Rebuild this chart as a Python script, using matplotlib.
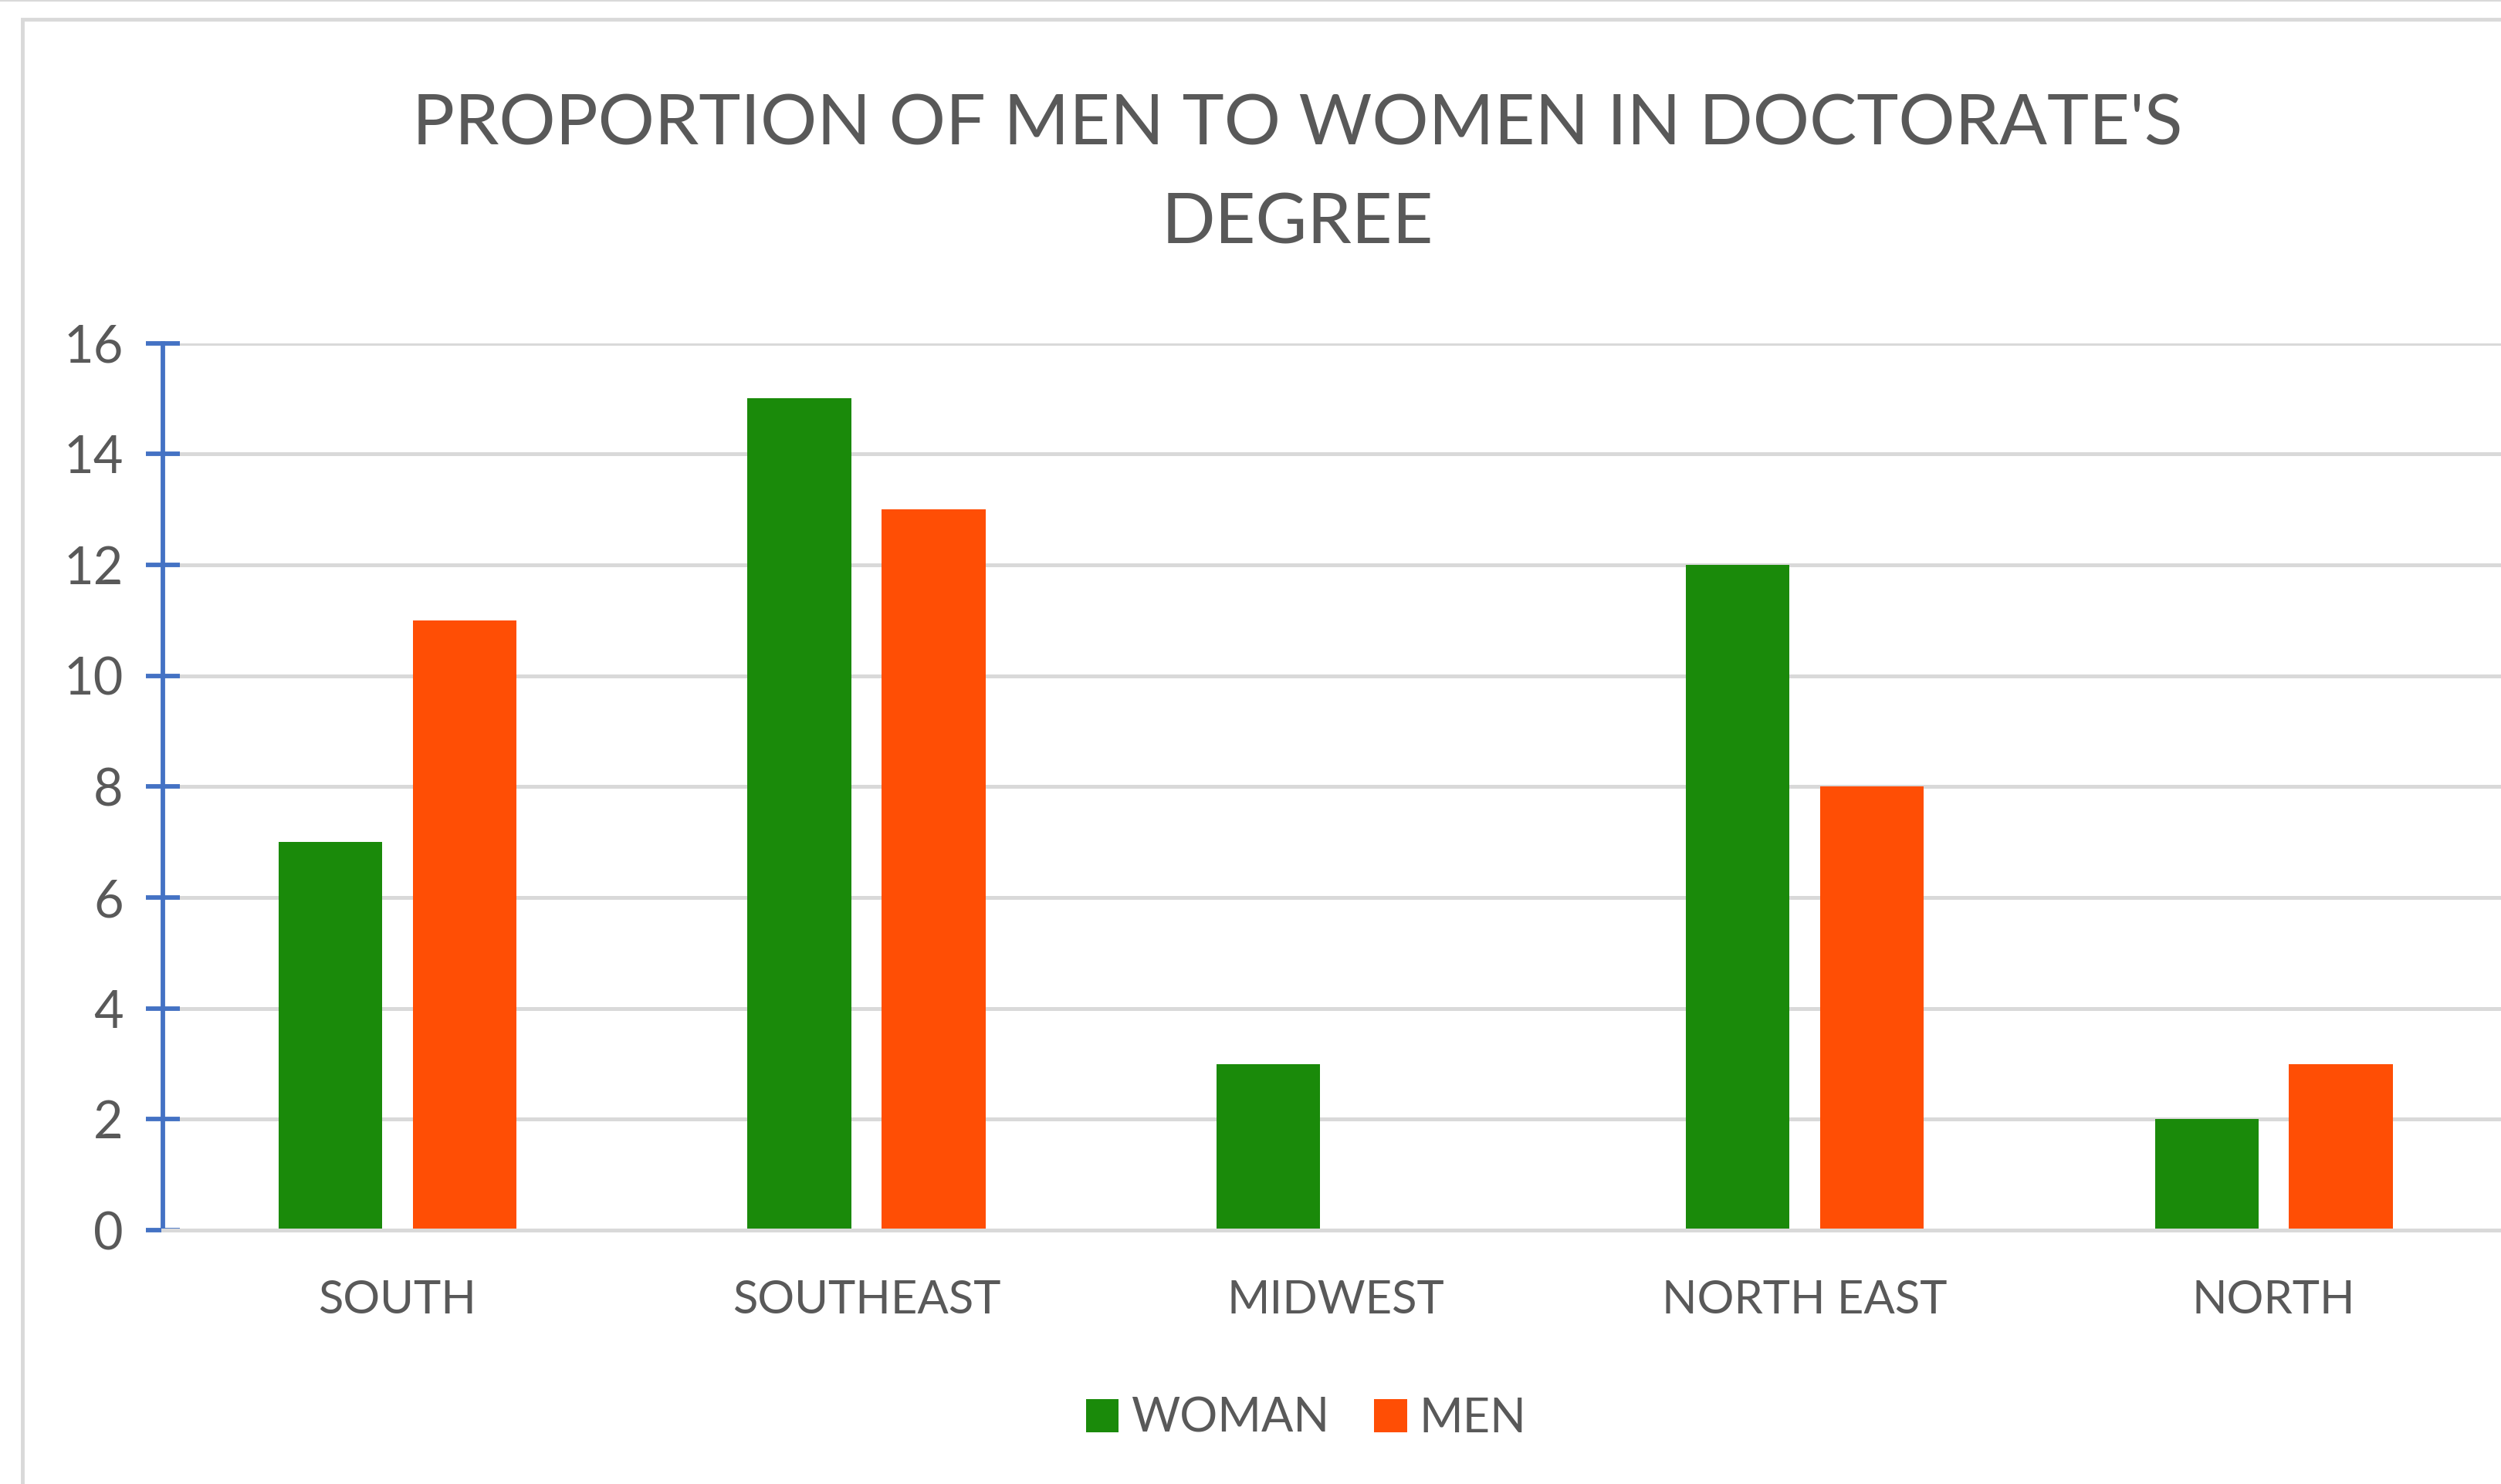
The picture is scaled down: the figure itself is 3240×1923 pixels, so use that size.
import matplotlib
matplotlib.use("Agg")
import matplotlib.pyplot as plt
import numpy as np
from matplotlib.patches import Rectangle, Patch
from matplotlib.lines import Line2D

regions = ["SOUTH", "SOUTHEAST", "MIDWEST", "NORTH EAST", "NORTH"]
woman = [7, 15, 3, 12, 2]
men = [11, 13, 0, 8, 3]
yticks = [0, 2, 4, 6, 8, 10, 12, 14, 16]

GREEN = "#1A8A0A"
ORANGE = "#FF4E05"
GRID = "#D9D9D9"
TXT = "#595959"
BLUE = "#4472C4"

plt.rcParams["font.family"] = ["Lato", "DejaVu Sans"]

fig = plt.figure(figsize=(32.41, 19.23), dpi=100)

# chart frame (cut off at right / bottom like the screenshot)
fig.add_artist(Rectangle((0.0089, -0.05), 1.2, 1.037, transform=fig.transFigure,
                         fill=False, edgecolor=GRID, linewidth=3.5))
fig.add_artist(Line2D([0, 1], [0.9995, 0.9995], transform=fig.transFigure,
                      color=GRID, linewidth=1.5))

ax = fig.add_axes([0.0651, 0.171, 0.9375, 0.5978])
x = np.arange(len(regions))
w = 0.221
off = 0.143
ax.bar(x - off, woman, w, color=GREEN, label="WOMAN", zorder=3)
ax.bar(x + off, men, w, color=ORANGE, label="MEN", zorder=3)

ax.set_xlim(-0.5, len(regions) - 0.5)
ax.set_ylim(0, 16)
ax.set_yticks(yticks)
ax.yaxis.grid(True, color=GRID, linewidth=3.6, zorder=0)
ax.set_axisbelow(True)

for s in ("top", "right"):
    ax.spines[s].set_visible(False)
ax.spines["left"].set_color(BLUE)
ax.spines["left"].set_linewidth(4.2)
ax.spines["bottom"].set_color(GRID)
ax.spines["bottom"].set_linewidth(3.6)
ax.spines["bottom"].set_zorder(4)

ax.tick_params(axis="y", direction="inout", length=32, width=4.2, color=BLUE,
               labelsize=48, labelcolor=TXT, pad=21)
ax.set_xticks(x)
ax.set_xticklabels(regions)
ax.tick_params(axis="x", length=0, labelsize=43, labelcolor=TXT, pad=46)

fig.text(0.5185, 0.916, "PROPORTION OF MEN TO WOMEN IN DOCTORATE'S", ha="center",
         va="center", fontsize=66, color=TXT)
fig.text(0.5185, 0.849, "DEGREE", ha="center", va="center", fontsize=66, color=TXT)

handles = [Patch(facecolor=GREEN, label="WOMAN"), Patch(facecolor=ORANGE, label="MEN")]
fig.legend(handles=handles, loc="center", bbox_to_anchor=(0.522, 0.044), ncol=2,
           frameon=False, fontsize=44, labelcolor=TXT, handlelength=0.7,
           handleheight=0.7, handletextpad=0.25, columnspacing=0.95)

fig.savefig("out.png", dpi=100)
